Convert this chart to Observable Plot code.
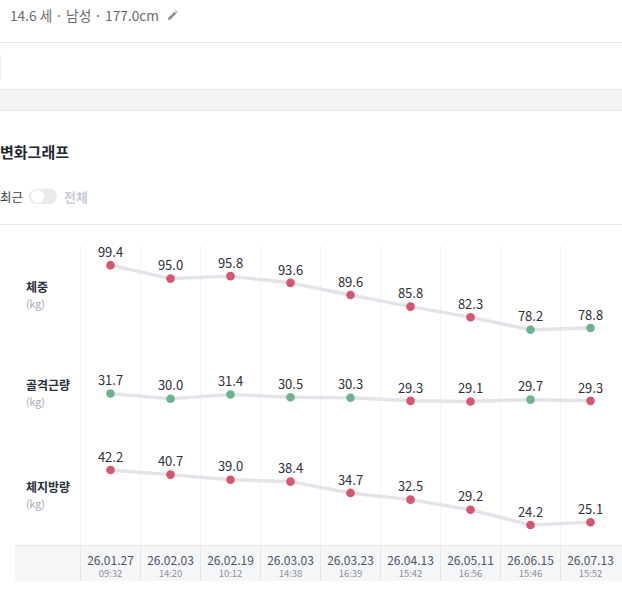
<!DOCTYPE html>
<html>
<head>
<meta charset="utf-8">
<script src="https://cdn.jsdelivr.net/npm/d3@7"></script>
<script src="https://cdn.jsdelivr.net/npm/@observablehq/plot@0.6"></script>
<style>
  html, body { margin: 0; padding: 0; background: #fff; }
  body { width: 622px; height: 604px; position: relative; overflow: hidden; font-family: "Noto Sans CJK KR", "Noto Sans", sans-serif; }
  .abs { position: absolute; }
  .hr { position: absolute; left: 0; width: 622px; height: 1px; background: #e8e9ec; }
  .rowlabel { position: absolute; left: 26px; }
  .rowlabel .name { font-size: 12px; font-weight: 700; color: #2b2f38; line-height: 16px; }
  .rowlabel .unit { font-size: 10.5px; color: #a3a6b8; line-height: 16px; margin-top: 1px; }
</style>
</head>
<body>
<div class="abs" style="left:10px; top:5px; font-size:13.7px; color:#6e6a6a; line-height:20px;">14.6 세 · 남성 · 177.0cm</div>
<svg class="abs" style="left:167px; top:10px;" width="11" height="11" viewBox="0 0 12 12">
  <path d="M1 11 L1.6 8.4 L8.2 1.8 L10.2 3.8 L3.6 10.4 Z" fill="#8a8a8f"/>
  <path d="M8.9 1.1 L9.6 0.4 L11.6 2.4 L10.9 3.1 Z" fill="#8a8a8f"/>
</svg>
<div class="hr" style="top:42px;"></div>
<div class="abs" style="left:0; top:55px; width:1px; height:24px; background:#ececef;"></div>
<div class="abs" style="left:0; top:89px; width:622px; height:22px; background:#f4f5f7; border-top:1px solid #e6e7ea; border-bottom:1px solid #ecedf0; box-sizing:border-box;"></div>
<div class="abs" style="left:0; top:141px; font-size:15px; font-weight:700; color:#23262d; line-height:22px;">변화그래프</div>
<div class="abs" style="left:0; top:187px; font-size:12.5px; color:#3a3d44; line-height:20px;">최근</div>
<div class="abs" style="left:29px; top:189px; width:28px; height:15px; border-radius:8px; background:#e9eaee;"></div>
<div class="abs" style="left:30.5px; top:190px; width:13px; height:13px; border-radius:7px; background:#fff;"></div>
<div class="abs" style="left:64px; top:187px; font-size:13px; font-weight:700; color:#c9ccd3; line-height:20px;">전체</div>
<div class="hr" style="top:224px;"></div>

<div id="rows" class="abs" style="left:0; top:245px; width:622px; height:300px;"></div>
<div class="rowlabel" style="top:279px;"><div class="name">체중</div><div class="unit">(kg)</div></div>
<div class="rowlabel" style="top:377px;"><div class="name">골격근량</div><div class="unit">(kg)</div></div>
<div class="rowlabel" style="top:479px;"><div class="name">체지방량</div><div class="unit">(kg)</div></div>

<div id="band" class="abs" style="left:15px; top:545px; width:607px; height:36px; background:#f5f6f8; border-top:1px solid #e3e4e8; box-sizing:border-box;"></div>

<script>
const dates = ["26.01.27","26.02.03","26.02.19","26.03.03","26.03.23","26.04.13","26.05.11","26.06.15","26.07.13"];
const times = ["09:32","14:20","10:12","14:38","16:39","15:42","16:56","15:46","15:52"];
const weight = [99.4, 95.0, 95.8, 93.6, 89.6, 85.8, 82.3, 78.2, 78.8];
const muscle = [31.7, 30.0, 31.4, 30.5, 30.3, 29.3, 29.1, 29.7, 29.3];
const fat = [42.2, 40.7, 39.0, 38.4, 34.7, 32.5, 29.2, 24.2, 25.1];
const weightStatus = ["bad","bad","bad","bad","bad","bad","bad","good","good"];
const muscleStatus = ["good","good","good","good","good","bad","bad","good","bad"];
const fatStatus = ["bad","bad","bad","bad","bad","bad","bad","bad","bad"];

const series = [
  {values: weight, status: weightStatus},
  {values: muscle, status: muscleStatus},
  {values: fat, status: fatStatus}
];

const colorScale = {domain: ["bad","good"], range: ["#d5566e","#6db48e"]};
const rowsEl = document.getElementById("rows");

for (const s of series) {
  const data = dates.map((d, i) => ({date: d, value: s.values[i], status: s.status[i]}));
  const [lo, hi] = d3.extent(s.values);
  const mid = (lo + hi) / 2;
  const chart = Plot.plot({
    width: 622, height: 100,
    marginLeft: 80, marginRight: 2, marginTop: 0, marginBottom: 0,
    style: {fontFamily: '"Noto Sans CJK KR", sans-serif', background: "transparent", overflow: "visible"},
    x: {type: "point", domain: dates, padding: 0.5, axis: null},
    y: {domain: [mid - 15.74, mid + 17.05], axis: null},
    color: colorScale,
    marks: [
      Plot.ruleX(dates, {x: d => d, dx: -30, stroke: "#f2f3f6", strokeWidth: 1}),
      Plot.line(data, {x: "date", y: "value", stroke: "#e3e3ea", strokeWidth: 3.5, curve: "linear"}),
      Plot.dot(data, {x: "date", y: "value", fill: "status", r: 4.3}),
      Plot.text(data, {x: "date", y: "value", text: d => d.value.toFixed(1), dy: -12.5, fontSize: 13, fill: "#2d3038"})
    ]
  });
  chart.style.display = "block";
  rowsEl.appendChild(chart);
}

const band = Plot.plot({
  width: 607, height: 35,
  marginLeft: 65, marginRight: 2, marginTop: 0, marginBottom: 0,
  style: {fontFamily: '"Noto Sans CJK KR", sans-serif', background: "transparent", overflow: "visible"},
  x: {type: "point", domain: dates, padding: 0.5, axis: null},
  y: {domain: [0, 1], axis: null},
  marks: [
    Plot.ruleX(dates, {x: d => d, dx: -30, stroke: "#e6e7eb", strokeWidth: 1}),
    Plot.text(dates, {x: d => d, frameAnchor: "top", dy: 9.5, text: d => d, fontSize: 12, fill: "#4e5460"}),
    Plot.text(dates, {x: d => d, frameAnchor: "top", dy: 24, text: (d, i) => times[i], fontSize: 9.5, fill: "#8d919c"})
  ]
});
band.style.display = "block";
document.getElementById("band").appendChild(band);
</script>
</body>
</html>
